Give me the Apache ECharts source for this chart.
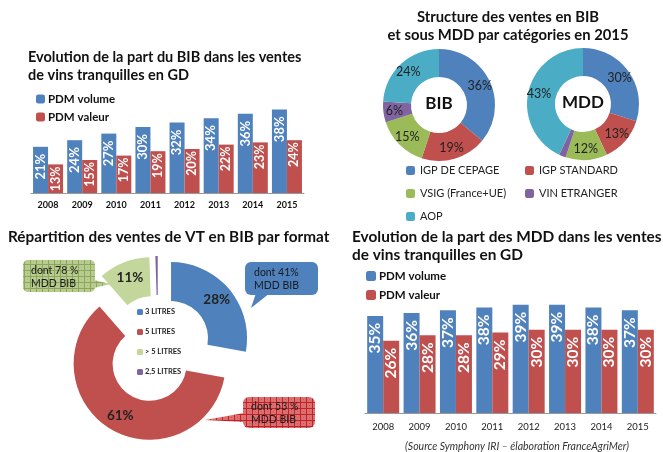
<!DOCTYPE html>
<html><head><meta charset="utf-8">
<script src="https://cdn.jsdelivr.net/npm/echarts@6/dist/echarts.min.js"></script>
<style>html,body{margin:0;padding:0;background:#fff}#c{width:663px;height:452px}</style>
</head><body><div id="c"></div>
<script>
// ---- data ----
const years = ['2008','2009','2010','2011','2012','2013','2014','2015'];
const bibVolume = [21,24,27,30,32,34,36,38];
const bibValeur = [13,15,17,19,20,22,23,24];
const mddVolume = [35,36,37,38,39,39,38,37];
const mddValeur = [26,28,28,29,30,30,30,30];
const categories = ['IGP DE CEPAGE','IGP STANDARD','VSIG (France+UE)','VIN ETRANGER','AOP'];
const bibShares = [36,19,15,6,24];
const mddShares = [30,13,12,2,43];
const formats = ['3 LITRES','5 LITRES','> 5 LITRES','2,5 LITRES'];
const formatShares = [28,61,11,0.5];
const callouts = ['dont 41%\nMDD BIB','dont 78 %\nMDD BIB','dont 53 %\nMDD BIB'];

const FONT = 'Lato';
const BLUE='#4f81bd', RED='#c0504d', GREEN='#9bbb59', PURPLE='#8064a2', AQUA='#4bacc6', LGREEN='#c3d69b';
const catColors=[BLUE,RED,GREEN,PURPLE,AQUA];
const fmtColors=[BLUE,RED,LGREEN,PURPLE];

function pattern(bg, line){
  const c=document.createElement('canvas'); c.width=6;c.height=6;
  const x=c.getContext('2d'); x.fillStyle=bg; x.fillRect(0,0,6,6);
  x.fillStyle=line; x.fillRect(0,0,6,1); x.fillRect(0,0,1,6);
  x.globalAlpha=0.35; x.fillRect(3,3,1,1);
  return {image:c, repeat:'repeat'};
}

const chart = echarts.init(document.getElementById('c'),null,{renderer:'canvas'});

const barLabel = (fs, dist)=>({show:true, position:'insideTop', rotate:90, align:'right', verticalAlign:'middle',
  distance:dist, color:'#fff', fontWeight:'bold', fontSize:fs, fontFamily:FONT, formatter:'{c}%'});

const ts = (fs)=>({fontFamily:FONT, fontWeight:'bold', fontSize:fs, color:'#111', lineHeight:18});

const option = {
  animation:false,
  textStyle:{fontFamily:FONT},
  title:[
    {text:'Evolution de la part du BIB dans les ventes\nde vins tranquilles en GD', left:28, top:48, padding:0, textStyle:ts(14.5)},
    {text:'Structure des ventes en BIB\net sous MDD par catégories en 2015', left:508, top:8, padding:0, textAlign:'center', textStyle:ts(14.8)},
    {text:'Répartition des ventes de VT en BIB par format', left:8, top:228, padding:0, textStyle:ts(15.3)},
    {text:'Evolution de la part des MDD dans les ventes\nde vins tranquilles en GD', left:352, top:228, padding:0, textStyle:ts(15.4)},
    {text:'BIB', left:439, top:95, padding:0, textAlign:'center', textStyle:{fontFamily:FONT,fontWeight:'bold',fontSize:17,color:'#111'}},
    {text:'MDD', left:583, top:94, padding:0, textAlign:'center', textStyle:{fontFamily:FONT,fontWeight:'bold',fontSize:17,color:'#111'}},
    {text:'(Source Symphony IRI – élaboration FranceAgriMer)', left:517, top:441, padding:0, textAlign:'center',
      textStyle:{fontFamily:FONT,fontStyle:'italic',fontWeight:'normal',fontSize:10.5,color:'#333'}}
  ],
  legend:[
    {data:['PDM volume','PDM valeur'], orient:'vertical', left:36, top:93, itemWidth:9, itemHeight:9, itemGap:6, padding:0,
      selectedMode:false, textStyle:{fontFamily:FONT,fontWeight:'bold',fontSize:11.5,color:'#111',padding:[0,0,0,-2]}},
    {data:['PDM volume','PDM valeur'], orient:'vertical', left:366, top:270, itemWidth:10, itemHeight:10, itemGap:7, padding:0,
      selectedMode:false, textStyle:{fontFamily:FONT,fontWeight:'bold',fontSize:11.5,color:'#111',padding:[0,0,0,-2]}},
    {data:[categories[0],categories[2],categories[4]], orient:'vertical', left:406, top:165, itemWidth:9, itemHeight:9, itemGap:12, padding:0,
      selectedMode:false, textStyle:{fontFamily:FONT,fontSize:11,color:'#222'}},
    {data:[categories[1],categories[3]], orient:'vertical', left:525, top:165, itemWidth:9, itemHeight:9, itemGap:12, padding:0,
      selectedMode:false, textStyle:{fontFamily:FONT,fontSize:11,color:'#222'}},
    {data:formats, orient:'vertical', left:137, top:308, itemWidth:6, itemHeight:6, itemGap:12, padding:0,
      selectedMode:false, textStyle:{fontFamily:FONT,fontSize:7.5,fontWeight:'bold',color:'#222',padding:[0,0,0,-3]}}
  ],
  grid:[
    {left:31, width:273, top:105, height:88},
    {left:365, width:291, top:302, height:111}
  ],
  xAxis:[
    {type:'category', gridIndex:0, data:years, axisLine:{lineStyle:{color:'#999'}}, axisTick:{length:4,lineStyle:{color:'#999'}},
      axisLabel:{fontFamily:FONT,fontWeight:'bold',fontSize:9,color:'#111',margin:8}},
    {type:'category', gridIndex:1, data:years, axisLine:{lineStyle:{color:'#999'}}, axisTick:{length:4,lineStyle:{color:'#999'}},
      axisLabel:{fontFamily:FONT,fontSize:9.5,color:'#222',margin:9}}
  ],
  yAxis:[
    {type:'value', gridIndex:0, min:0, max:40, show:false},
    {type:'value', gridIndex:1, min:0, max:40, show:false}
  ],
  series:[
    {type:'bar', name:'PDM volume', xAxisIndex:0, yAxisIndex:0, data:bibVolume, barWidth:15, barGap:'0%', itemStyle:{color:BLUE}, label:barLabel(13,7)},
    {type:'bar', name:'PDM valeur', xAxisIndex:0, yAxisIndex:0, data:bibValeur, barWidth:15, barGap:'0%', itemStyle:{color:RED}, label:barLabel(12.5,2)},
    {type:'bar', name:'PDM volume', xAxisIndex:1, yAxisIndex:1, data:mddVolume, barWidth:16, barGap:'0%', itemStyle:{color:BLUE}, label:barLabel(15.5,7)},
    {type:'bar', name:'PDM valeur', xAxisIndex:1, yAxisIndex:1, data:mddValeur, barWidth:16, barGap:'0%', itemStyle:{color:RED}, label:barLabel(15.5,7)},
    {type:'pie', name:'BIB', center:[439,105], radius:[28,56], startAngle:90, clockwise:true, silent:true,
      data:categories.map((n,i)=>({name:n,value:bibShares[i],itemStyle:{color:catColors[i]}})),
      label:{show:true,position:'inside',formatter:'{c}%',fontFamily:FONT,fontSize:12.5,color:'#222'}, labelLine:{show:false}},
    {type:'pie', name:'MDD', center:[583,104], radius:[28,56], startAngle:90, clockwise:true, silent:true,
      data:categories.map((n,i)=>({name:n,value:mddShares[i],itemStyle:{color:catColors[i]}})),
      label:{show:true,position:'inside',formatter:'{c}%',fontFamily:FONT,fontSize:12.5,color:'#222'}, labelLine:{show:false}},
    {type:'pie', name:'Format', center:[158,349], radius:[37,76], startAngle:90, clockwise:true,
      selectedMode:'multiple', selectedOffset:17, avoidLabelOverlap:false,
      emphasis:{disabled:true}, select:{itemStyle:{}},
      data:formats.map((n,i)=>({name:n,value:formatShares[i],selected:true,itemStyle:{color:fmtColors[i]},
        label:{show:formatShares[i]>=1}})),
      label:{show:true,position:'inside',formatter:'{c}%',fontFamily:FONT,fontSize:13.5,fontWeight:'bold',color:'#222'}, labelLine:{show:false}}
  ],
  graphic:[
    {type:'polygon', shape:{points:[[256,293],[270,293],[251,308]]}, style:{fill:BLUE}, z:10},
    {type:'rect', shape:{x:245,y:262,width:73,height:33,r:6}, style:{fill:BLUE}, z:10},
    {type:'text', left:254, top:266, style:{text:callouts[0],font:'10.5px Lato',fill:'#1a1a1a',lineHeight:13}, z:11},
    {type:'polygon', shape:{points:[[94,280],[94,288],[110,284]]}, style:{fill:pattern('#b7cc8f','#8ea65c')}, z:10},
    {type:'rect', shape:{x:23,y:260,width:72,height:32,r:5}, style:{fill:pattern('#b7cc8f','#8ea65c')}, z:10},
    {type:'text', left:31, top:264, style:{text:callouts[1],font:'10.5px Lato',fill:'#1a1a1a',lineHeight:13}, z:11},
    {type:'polygon', shape:{points:[[244,413],[244,422],[205,420]]}, style:{fill:pattern('#dc7070','#c0222a')}, z:10},
    {type:'rect', shape:{x:243,y:397,width:72,height:31,r:6}, style:{fill:pattern('#dc7070','#c0222a')}, z:10},
    {type:'text', left:251, top:400, style:{text:callouts[2],font:'10.5px Lato',fill:'#1a1a1a',lineHeight:13}, z:11}
  ]
};
chart.setOption(option);
</script></body></html>
